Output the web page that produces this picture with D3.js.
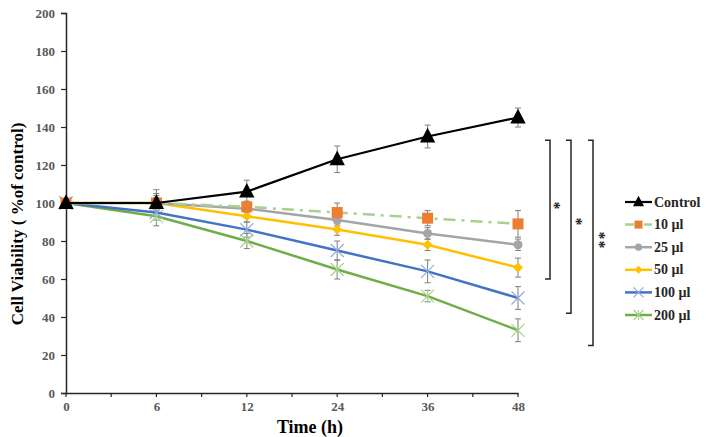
<!DOCTYPE html>
<html><head><meta charset="utf-8">
<script src="https://cdn.jsdelivr.net/npm/d3@7/dist/d3.min.js"></script>
<style>body{margin:0;background:#fff}svg{display:block}</style>
</head><body><div id="chart"></div>
<script>
const times = ["0","6","12","24","36","48"];
const yTicks = [0,20,40,60,80,100,120,140,160,180,200];
const seriesNames = ["Control","10 µl","25 µl","50 µl","100 µl","200 µl"];
const control = [100,100,106,123,135,145];
const ul10 = [100,100,98,95,92,89];
const ul25 = [100,100,97,91,84,78];
const ul50 = [100,100,93,86,78,66];
const ul100 = [100,95,86,75,64,50];
const ul200 = [100,93,80,65,51,33];
const errControl = [2,7,6,7,6,5];
const err10 = [2,5,3,5,4,7];
const err25 = [2,4,3,3,3,3];
const err50 = [2,3,3,3,3,5];
const err100 = [2,4,4,5,6,6];
const err200 = [2,5,4,5,3,6];
const sigLabels = ["*","*","**"];
const sigRanges = [[60,133],[42,133],[25,133]];

const W=709,H=437;
const svg=d3.select("#chart").append("svg").attr("width",W).attr("height",H);
const x=d3.scalePoint().domain(times).range([66,518]);
const y=d3.scaleLinear().domain([0,200]).range([393,13]);

const styles=[
 {line:"#000000",dash:null,marker:"triangle",mfill:"#000000",mstroke:"#000000",w:2.2},
 {line:"#a9d18e",dash:"12,6,3,6",marker:"square",mfill:"#ed7d31",mstroke:"#ed7d31",w:2.5},
 {line:"#a5a5a5",dash:null,marker:"circle",mfill:"#a5a5a5",mstroke:"#a5a5a5",w:2.5},
 {line:"#ffc000",dash:null,marker:"diamond",mfill:"#ffc000",mstroke:"#ffc000",w:2.5},
 {line:"#4472c4",dash:null,marker:"x",mfill:"none",mstroke:"#8faadc",w:2.5},
 {line:"#70ad47",dash:null,marker:"star",mfill:"none",mstroke:"#a9d18e",w:2.5}
];
const data=[control,ul10,ul25,ul50,ul100,ul200];
const errs=[errControl,err10,err25,err50,err100,err200];

// axes
const gx=svg.append("g").attr("transform","translate(0,393)");
gx.call(d3.axisBottom(x).tickSize(0).tickPadding(9));
gx.select(".domain").attr("stroke","#262626").attr("stroke-width",1.5);
gx.selectAll("text").attr("font-family","Liberation Serif").attr("font-weight","bold").attr("font-size",13).attr("fill","#595959");
const step=x.step()/2;
const xt=d3.range(0,11).map(i=>66+i*step);
gx.selectAll(".mt").data(xt).enter().append("line").attr("x1",d=>d).attr("x2",d=>d).attr("y1",0).attr("y2",4).attr("stroke","#262626").attr("stroke-width",1.2);

const gy=svg.append("g").attr("transform","translate(66,0)");
gy.call(d3.axisLeft(y).tickValues(yTicks).tickSize(5).tickPadding(6));
gy.select(".domain").attr("stroke","#262626").attr("stroke-width",1.5);
gy.selectAll(".tick line").attr("stroke","#262626").attr("stroke-width",1.2);
gy.selectAll("text").attr("font-family","Liberation Serif").attr("font-weight","bold").attr("font-size",13).attr("fill","#595959");

svg.append("text").attr("transform","translate(23,224) rotate(-90)").attr("text-anchor","middle")
 .attr("font-family","Liberation Serif").attr("font-weight","bold").attr("font-size",17).attr("fill","#000").text("Cell Viability ( %of control)");
svg.append("text").attr("x",310).attr("y",433).attr("text-anchor","middle")
 .attr("font-family","Liberation Serif").attr("font-weight","bold").attr("font-size",18).attr("fill","#000").text("Time (h)");

function marker(g,type,cx,cy,s,st){
 if(type==="triangle"){g.append("path").attr("d",`M${cx},${cy-s*0.62}L${cx+s*0.55},${cy+s*0.42}L${cx-s*0.55},${cy+s*0.42}Z`).attr("fill",st.mfill);}
 else if(type==="square"){g.append("rect").attr("x",cx-s/2).attr("y",cy-s/2).attr("width",s).attr("height",s).attr("fill",st.mfill);}
 else if(type==="circle"){g.append("circle").attr("cx",cx).attr("cy",cy).attr("r",s*0.45).attr("fill",st.mfill);}
 else if(type==="diamond"){g.append("path").attr("d",`M${cx},${cy-s*0.5}L${cx+s*0.5},${cy}L${cx},${cy+s*0.5}L${cx-s*0.5},${cy}Z`).attr("fill",st.mfill);}
 else if(type==="x"){const r=s*0.5;g.append("path").attr("d",`M${cx-r},${cy-r}L${cx+r},${cy+r}M${cx-r},${cy+r}L${cx+r},${cy-r}`).attr("stroke",st.mstroke).attr("stroke-width",1.2);}
 else if(type==="star"){const r=s*0.5;g.append("path").attr("d",`M${cx-r},${cy-r}L${cx+r},${cy+r}M${cx-r},${cy+r}L${cx+r},${cy-r}M${cx},${cy-r}L${cx},${cy+r}`).attr("stroke",st.mstroke).attr("stroke-width",1.2);}
}

// error bars
const eg=svg.append("g");
data.forEach((vals,si)=>{
 vals.forEach((v,i)=>{
  const cx=x(times[i]), e=errs[si][i];
  const y1=y(v+e), y2=y(v-e);
  eg.append("line").attr("x1",cx).attr("x2",cx).attr("y1",y1).attr("y2",y2).attr("stroke","#7f7f7f").attr("stroke-width",1);
  [y1,y2].forEach(yy=>eg.append("line").attr("x1",cx-3).attr("x2",cx+3).attr("y1",yy).attr("y2",yy).attr("stroke","#7f7f7f").attr("stroke-width",1));
 });
});

// lines (draw in reverse so control on top)
const lineGen=d3.line().x((d,i)=>x(times[i])).y(d=>y(d));
const order=[5,4,3,2,1,0];
order.forEach(si=>{
 const st=styles[si];
 svg.append("path").datum(data[si]).attr("d",lineGen).attr("fill","none").attr("stroke",st.line).attr("stroke-width",st.w).attr("stroke-dasharray",st.dash);
 const mg=svg.append("g");
 data[si].forEach((v,i)=>marker(mg,st.marker,x(times[i]),y(v),si===0?14:(si===1?11:(si===2?10:(si===3?10:13))),st));
});

// significance brackets
const bx=[550,571,593];
const starPos=[[556,206],[578,222],[601.5,240.5]];
const sg=svg.append("g");
sigRanges.forEach((r,i)=>{
 const top=y(r[1]), bot=y(r[0]);
 sg.append("path").attr("d",`M${bx[i]-5},${top}H${bx[i]}V${bot}H${bx[i]-5}`).attr("fill","none").attr("stroke","#262626").attr("stroke-width",1.5);
 sg.append("text").attr("transform",`translate(${starPos[i][0]},${starPos[i][1]}) rotate(90)`)
  .attr("x",0).attr("y",7.5).attr("text-anchor","middle").attr("letter-spacing",1)
  .attr("font-family","Liberation Serif").attr("font-weight","bold").attr("font-size",16).attr("fill","#262626").text(sigLabels[i]);
});

// legend
const lg=svg.append("g");
seriesNames.forEach((n,i)=>{
 const ly=202+i*22.6, st=styles[i];
 lg.append("line").attr("x1",625).attr("x2",652).attr("y1",ly).attr("y2",ly).attr("stroke",st.line).attr("stroke-width",st.w).attr("stroke-dasharray",i===1?"9,4,2,4":null);
 marker(lg,st.marker,638.5,ly,i===0?10:(i===4||i===5?10:8),st);
 lg.append("text").attr("x",654).attr("y",ly+4.5).attr("font-family","Liberation Serif").attr("font-weight","bold").attr("font-size",14).attr("fill","#262626").text(n);
});
</script></body></html>
